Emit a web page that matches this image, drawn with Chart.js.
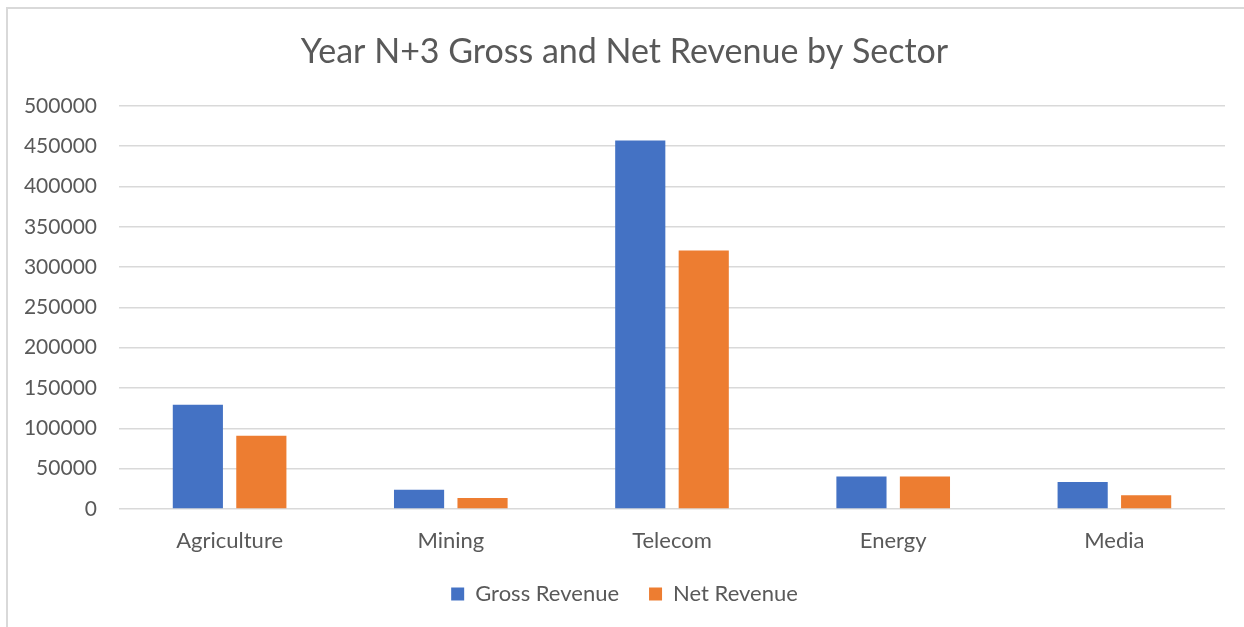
<!DOCTYPE html>
<html>
<head>
<meta charset="utf-8">
<script src="https://cdn.jsdelivr.net/npm/chart.js@4.4.1/dist/chart.umd.min.js"></script>
<style>
  html, body { margin: 0; padding: 0; background: #ffffff; }
  #wrap { position: relative; width: 1244px; height: 627px; overflow: hidden; }
  #frame { position: absolute; left: 6px; top: 7px; width: 1300px; height: 700px; border-left: 2px solid #d9d9d9; border-top: 2px solid #d9d9d9; box-sizing: border-box; }
  canvas { position: absolute; left: 0; top: 0; }
</style>
</head>
<body>
<div id="wrap">
  <div id="frame"></div>
  <canvas id="c" width="1244" height="627"></canvas>
</div>
<script>
const categories = ["Agriculture", "Mining", "Telecom", "Energy", "Media"];
const grossRevenue = [129300, 23900, 457000, 40400, 33500];
const netRevenue = [90900, 13600, 320600, 40400, 16900];
const seriesNames = ["Gross Revenue", "Net Revenue"];
const chartTitle = "Year N+3 Gross and Net Revenue by Sector";
const yMin = 0, yMax = 500000, yStep = 50000;

const FONT = "Lato, 'Open Sans', sans-serif";
const TEXT = "#595959";
const PAD_LEFT = 24;
const X_TICK_PAD = 20;

new Chart(document.getElementById("c"), {
  type: "bar",
  data: {
    labels: categories,
    datasets: [
      { label: seriesNames[0], data: grossRevenue, backgroundColor: "#4472C4", categoryPercentage: 0.574, barPercentage: 0.79 },
      { label: seriesNames[1], data: netRevenue, backgroundColor: "#ED7D31", categoryPercentage: 0.574, barPercentage: 0.79 }
    ]
  },
  options: {
    responsive: false,
    animation: false,
    devicePixelRatio: 1,
    layout: { padding: { left: PAD_LEFT, right: 19, top: 0, bottom: 12 } },
    plugins: {
      tooltip: { enabled: false },
      title: {
        display: true,
        text: chartTitle,
        color: TEXT,
        font: { family: FONT, size: 34, weight: "normal" },
        padding: { top: 32, bottom: 33 }
      },
      legend: {
        position: "bottom",
        labels: {
          color: TEXT,
          font: { family: FONT, size: 22 },
          boxWidth: 13,
          boxHeight: 13,
          padding: 30
        }
      }
    },
    scales: {
      x: {
        grid: { display: false, drawTicks: false },
        border: { display: false },
        afterFit: (s) => { s.height = X_TICK_PAD + 24; },
        ticks: { color: TEXT, font: { family: FONT, size: 22, lineHeight: 1.05 }, padding: X_TICK_PAD }
      },
      y: {
        min: yMin,
        max: yMax,
        afterFit: (s) => { s.width = 119 - PAD_LEFT; },
        grid: { color: "#d9d9d9", lineWidth: 1.5, drawTicks: false },
        border: { display: false },
        ticks: { stepSize: yStep, color: TEXT, font: { family: FONT, size: 21 }, padding: 22,
                 callback: (v) => String(v) }
      }
    }
  }
});
</script>
</body>
</html>
